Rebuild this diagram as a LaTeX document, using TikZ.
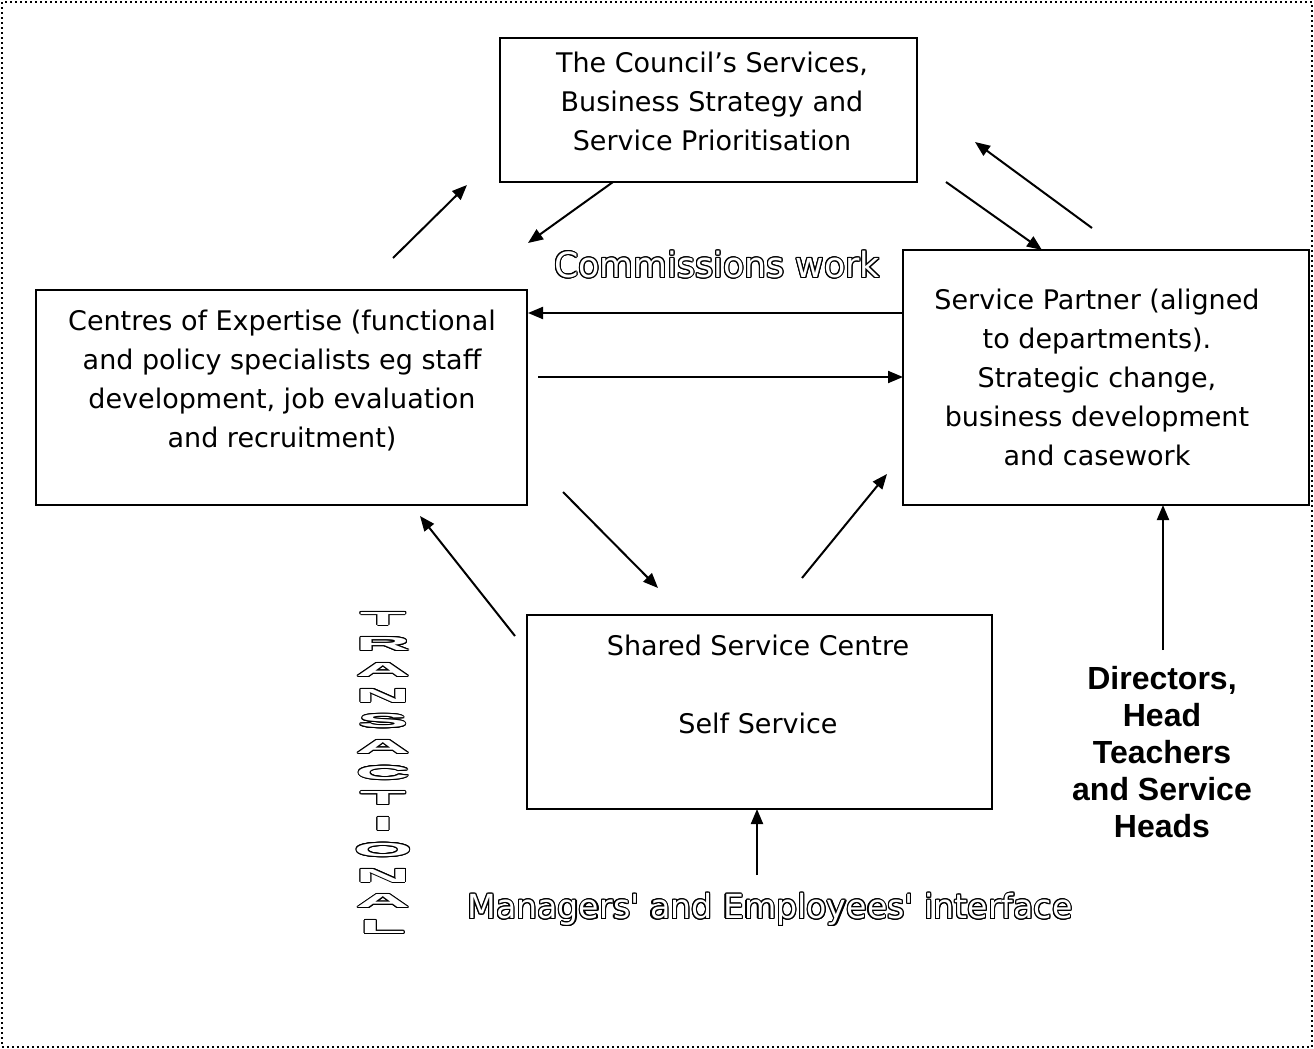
\documentclass[tikz,border=0pt]{standalone}
\usepackage{fontspec}
\setmainfont{DejaVu Sans}
\newfontfamily\headfont{Liberation Sans}
\usepackage[copies]{contour}
\usetikzlibrary{arrows.meta}
\contourlength{0.55pt}
% hollow lettering: white text ringed in black
\newcommand{\hollow}[1]{\contour{black}{\textcolor{white}{#1}}}

\begin{document}
\begin{tikzpicture}[
    x=0.5pt, y=-0.5pt,
    box/.style={draw, line width=1pt, inner sep=0pt},
    txt/.style={align=center, font=\fontsize{13.5}{19.5}\selectfont},
    link/.style={-{Triangle[length=7.5pt,width=6pt]}, line width=1pt}
]
\useasboundingbox (0,0) rectangle (1314,1049);
\draw[line width=1pt, dash pattern=on 1pt off 1.5pt] (2,2) rectangle (1312,1047);

% the four boxes
\node[box, minimum width=208.5pt, minimum height=72pt] (council) at (708.5,110) {};
\node[box, minimum width=245.5pt, minimum height=107.5pt] (expertise) at (281.5,397.5) {};
\node[box, minimum width=203pt, minimum height=127.5pt] (partner) at (1106,377.5) {};
\node[box, minimum width=232.5pt, minimum height=97pt] (shared) at (759.5,712) {};

\node[txt] (councilTxt) at (712,101) {The Council's Services,\\Business Strategy and\\Service Prioritisation};
\node[txt] (expertiseTxt) at (282,381) {Centres of Expertise (functional\\and policy specialists eg staff\\development, job evaluation\\and recruitment)};
\node[txt] (partnerTxt) at (1097,377) {Service Partner (aligned\\to departments).\\Strategic change,\\business development\\and casework};
\node[txt] (sharedTxt) at (758,684.5) {Shared Service Centre\\[19.5pt]Self Service};

\node[align=center, font=\fontsize{16}{18.5}\headfont\bfseries] (heads) at (1162,752) {Directors,\\Head\\Teachers\\and Service\\Heads};

\node[font=\fontsize{17.4}{20}\selectfont] (commissions) at (717,265) {\hollow{Commissions work}};
\node[font=\fontsize{16.6}{20}\selectfont] (interface) at (770,910) {\hollow{Managers\textquotesingle{} and Employees\textquotesingle{} interface}};

% stacked letters down the left side
\foreach \ch [count=\i from 0] in {T,R,A,N,S,A,C,T,I,O,N,A,L}
  \node[inner sep=0pt] (tr\i) at (383,619+25.7*\i) {\contourlength{0.5pt}\hollow{\scalebox{4.2}[1.05]{\fontsize{9}{9}\headfont\bfseries \ch}}};

% arrow ends
\coordinate (c1) at (393,258);  \coordinate (c1h) at (467,185);
\coordinate (c2) at (613,182);  \coordinate (c2h) at (528,243);
\coordinate (c3) at (946,182);  \coordinate (c3h) at (1042,250);
\coordinate (c4) at (1092,228); \coordinate (c4h) at (975,142);
\coordinate (c5) at (903,313);  \coordinate (c5h) at (528,313);
\coordinate (c6) at (538,377);  \coordinate (c6h) at (903,377);
\coordinate (c7) at (563,492);  \coordinate (c7h) at (658,588);
\coordinate (c8) at (802,578);  \coordinate (c8h) at (887,474);
\coordinate (c9) at (515,636);  \coordinate (c9h) at (420,516);
\coordinate (c10) at (1163,650); \coordinate (c10h) at (1163,505);
\coordinate (c11) at (757,875);  \coordinate (c11h) at (757,809);

\draw[link] (c1) -- (c1h);
\draw[link] (c2) -- (c2h);
\draw[link] (c3) -- (c3h);
\draw[link] (c4) -- (c4h);
\draw[link] (c5) -- (c5h);
\draw[link] (c6) -- (c6h);
\draw[link] (c7) -- (c7h);
\draw[link] (c8) -- (c8h);
\draw[link] (c9) -- (c9h);
\draw[link] (c10) -- (c10h);
\draw[link] (c11) -- (c11h);
\end{tikzpicture}
\end{document}
